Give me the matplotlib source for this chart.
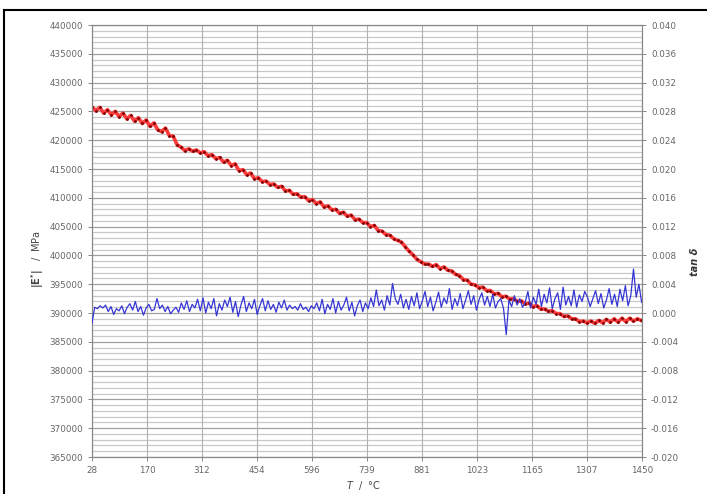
import numpy as np
import matplotlib
matplotlib.use("Agg")
import matplotlib.pyplot as plt
from matplotlib.lines import Line2D

# temperature sampling of the two curves
t_mod = np.arange(28, 1451, 10)
t_tan = np.arange(28, 1451, 7)

# |E*| in MPa
e_star = [425800, 425100, 425700, 424700, 425300, 424400, 425000, 424100, 424700, 423700,
          424300, 423300, 423900, 422900, 423500, 422400, 423000, 421800, 421500, 422100,
          420800, 420700, 419200, 418800, 418200, 418500, 418100, 418300, 417800, 418000,
          417300, 417500, 416800, 417000, 416200, 416500, 415600, 415900, 414700, 414900,
          414000, 414300, 413300, 413500, 412800, 412900, 412300, 412400, 411800, 412000,
          411200, 411300, 410600, 410700, 410100, 410200, 409500, 409700, 409000, 409300,
          408400, 408600, 407900, 408000, 407300, 407500, 406800, 407000, 406200, 406300,
          405700, 405700, 405000, 405200, 404300, 404200, 403600, 403500, 402900, 402600,
          402300, 401500, 400700, 400100, 399300, 398900, 398500, 398500, 398100, 398400,
          397700, 398000, 397400, 397300, 396700, 396500, 395800, 395700, 395000, 394900,
          394400, 394500, 393900, 393900, 393300, 393400, 392800, 392900, 392400, 392500,
          392000, 392100, 391600, 391700, 391100, 391300, 390700, 390700, 390300, 390400,
          389900, 389900, 389400, 389500, 389000, 389000, 388500, 388600, 388300, 388600,
          388200, 388700, 388300, 388900, 388400, 389000, 388400, 389100, 388500, 389100,
          388600, 389000, 388700]

# tan delta, in units of 1e-3
tan_d = np.array([-1.4, 0.8, 0.6, 1.0, 0.7, 1.1, 0.2, 0.9, -0.2, 0.6,
                  0.3, 1.0, -0.1, 0.8, 1.3, 0.4, 1.6, 0.2, 0.9, -0.3,
                  0.7, 1.2, 0.3, 0.5, 2.0, 0.6, 1.1, 0.2, 0.9, -0.1,
                  0.4, 0.8, 0.1, 1.4, 0.5, 1.7, 0.2, 1.2, 0.7, 1.9,
                  0.3, 2.1, 0.0, 1.5, 0.6, 2.0, -0.4, 1.3, 0.4, 1.8,
                  0.9, 2.2, 0.1, 1.6, -0.5, 1.1, 2.3, 0.2, 1.4, 0.6,
                  1.9, -0.2, 1.0, 2.0, 0.3, 1.7, 0.5, 1.2, 0.1, 1.5,
                  0.7, 1.8, 0.4, 1.1, 0.6, 0.9, 0.4, 1.3, 0.5, 0.8,
                  0.2, 1.0, 0.6, 1.4, 0.3, 1.9, -0.1, 1.2, 0.5, 2.0,
                  0.0, 1.6, 0.4, 1.1, 2.2, 0.3, 1.5, -0.4, 1.0, 1.8,
                  0.2, 1.4, 0.6, 2.1, 0.9, 3.2, 1.0, 1.8, 0.4, 2.4,
                  1.1, 4.1, 2.0, 1.2, 2.6, 0.7, 1.9, 0.5, 2.3, 1.0,
                  2.8, 0.6, 1.7, 3.0, 0.9, 2.2, 0.3, 1.5, 2.9, 0.8,
                  2.1, 1.3, 3.4, 0.5, 2.0, 1.0, 2.7, 0.6, 1.8, 3.1,
                  1.2, 2.4, 0.4, 1.9, 2.8, 1.1, 2.3, 0.9, 2.6, 0.7,
                  1.6, 2.0, 0.6, -3.0, 1.8, 0.9, 2.4, 1.1, 2.0, 0.8,
                  1.5, 3.0, 0.7, 2.2, 1.2, 3.3, 0.9, 2.6, 1.4, 3.5,
                  0.6, 2.0, 2.8, 0.5, 3.6, 1.1, 2.3, 1.0, 3.2, 0.8,
                  2.5, 1.6, 3.0, 2.2, 0.9, 2.0, 3.1, 1.3, 2.7, 0.7,
                  1.8, 3.4, 1.2, 2.6, 0.9, 3.3, 1.7, 3.8, 1.0, 2.4,
                  6.1, 2.2, 4.0, 1.5]) / 1000

x_ticks = [28, 170, 312, 454, 596, 739, 881, 1023, 1165, 1307, 1450]

fig = plt.figure(figsize=(7.07, 4.94), dpi=100)
# outer black frame: only the top and left edges show
fx, fy = 4 / 707, 1 - 10 / 494
fig.add_artist(Line2D([fx, 1.0], [fy, fy], transform=fig.transFigure, color='black', lw=1.5))
fig.add_artist(Line2D([fx, fx], [0.0, fy], transform=fig.transFigure, color='black', lw=1.5))

ax = fig.add_axes([92 / 707, 37 / 494, 550 / 707, 432 / 494])
ax2 = ax.twinx()

# grid
for v in np.arange(365000, 440001, 1000):
    c = '#a0a0a0' if v % 5000 == 0 else '#c8c8c8'
    ax.axhline(v, color=c, lw=0.9, zorder=0)
for xt in x_ticks:
    ax.axvline(xt, color='#b0b0b0', lw=0.8, zorder=0)

ax.plot(t_mod, e_star, '-', color='#ff3a3a', lw=2.6, zorder=3)
ax.plot(t_mod, e_star, '.', color='#7a0000', ms=2.0, zorder=4)
ax2.plot(t_tan, tan_d, '-', color='#3535d5', lw=0.9, zorder=3)

ax.set_xlim(28, 1450)
ax.set_ylim(365000, 440000)
ax2.set_ylim(-0.020, 0.040)
ax.set_xticks(x_ticks)
ax.set_yticks(np.arange(365000, 440001, 5000))
ax2.set_yticks(np.arange(-0.020, 0.0401, 0.004))
ax2.set_yticklabels(['%.3f' % v for v in np.arange(-0.020, 0.0401, 0.004)])

for a in (ax, ax2):
    a.tick_params(labelsize=6.3, labelcolor='#666666', color='#888888', length=3, width=0.7)
    for s in a.spines.values():
        s.set_color('#888888')
        s.set_linewidth(0.8)

fig.text(363 / 707, 1 - 485 / 494, r'$\mathbf{\mathit{T}}$' + '  /  °C', ha='center', va='center',
         fontsize=7, color='#444444')
fig.text(38 / 707, 1 - 259 / 494, r'$\mathbf{|E^{*}|}$' + '   /  MPa', ha='center', va='center',
         rotation=90, fontsize=7, color='#444444')
fig.text(695 / 707, 1 - 262 / 494, 'tan δ', ha='center', va='center', rotation=90,
         fontsize=7, fontweight='bold', style='italic', color='#333333')

fig.savefig('out.png', dpi=100)
